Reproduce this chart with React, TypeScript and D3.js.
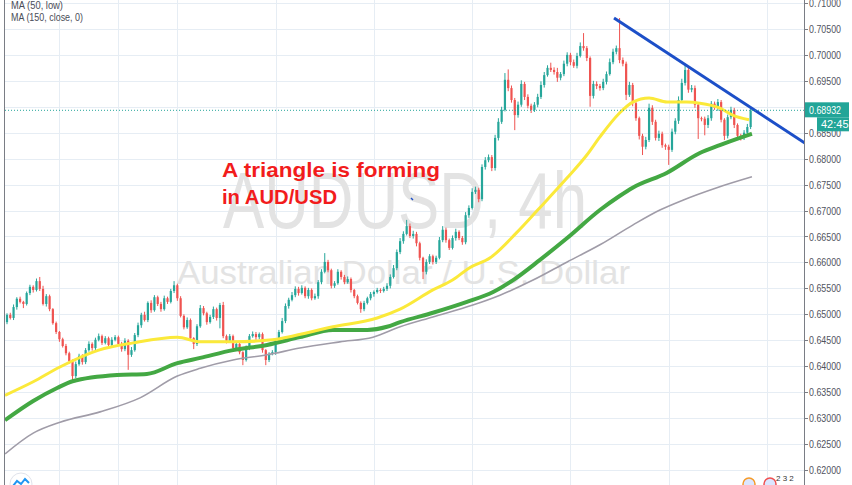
import React from "react";
import * as d3 from "d3";

// ---- data (prices in pips: 6485 = 0.6485) ----
const firstOpen = 6485;
const closes = [
  6499, 6493, 6514, 6530, 6524, 6520, 6541, 6553, 6547, 6564,
  6549, 6520, 6535, 6510, 6483, 6466, 6452, 6439, 6425, 6410,
  6381, 6404, 6420, 6408, 6431, 6443, 6435, 6451, 6458, 6445,
  6454, 6441, 6451, 6456, 6443, 6433, 6449, 6422, 6431, 6460,
  6479, 6499, 6489, 6522, 6508, 6533, 6520, 6510, 6531, 6524,
  6545, 6556, 6531, 6497, 6475, 6489, 6454, 6443, 6477, 6512,
  6502, 6485, 6495, 6510, 6493, 6518, 6458, 6449, 6458, 6435,
  6443, 6427, 6412, 6435, 6458, 6462, 6456, 6462, 6431, 6412,
  6424, 6427, 6447, 6466, 6487, 6516, 6528, 6537, 6549, 6541,
  6551, 6535, 6547, 6531, 6535, 6562, 6582, 6601, 6585, 6555,
  6560, 6582, 6572, 6562, 6568, 6547, 6535, 6522, 6510, 6522,
  6531, 6539, 6543, 6547, 6545, 6549, 6555, 6572, 6589, 6620,
  6641, 6655, 6670, 6651, 6655, 6637, 6609, 6582, 6601, 6612,
  6601, 6609, 6643, 6663, 6643, 6628, 6647, 6659, 6647, 6639,
  6691, 6705, 6736, 6740, 6722, 6784, 6797, 6803, 6782, 6840,
  6871, 6894, 6952, 6936, 6913, 6884, 6904, 6944, 6919, 6902,
  6894, 6904, 6919, 6942, 6961, 6975, 6971, 6967, 6956, 6963,
  6983, 7000, 6986, 6979, 6998, 7017, 7013, 6994, 6921, 6944,
  6940, 6936, 6948, 6963, 6986, 7006, 7013, 6990, 6983, 6923,
  6942, 6907, 6878, 6844, 6823, 6836, 6898, 6871, 6840, 6848,
  6826, 6823, 6817, 6852, 6873, 6913, 6946, 6971, 6933, 6936,
  6904, 6878, 6877, 6865, 6878, 6906, 6898, 6909, 6875, 6844,
  6880, 6894, 6865, 6844, 6840, 6850, 6861, 6893,
];
const upWick = [
  3, 4, 5, 3, 4, 2, 3, 4, 3, 5,
  8, 6, 4, 3, 2, 3, 2, 3, 4, 3,
  3, 5, 4, 3, 4, 5, 3, 4, 5, 3,
  4, 3, 5, 4, 3, 4, 5, 3, 6, 4,
  5, 4, 6, 3, 5, 4, 3, 4, 5, 3,
  4, 8, 3, 4, 3, 5, 3, 2, 4, 6,
  4, 3, 4, 5, 3, 4, 6, 3, 4, 3,
  4, 3, 2, 5, 4, 5, 4, 3, 3, 2,
  3, 4, 5, 4, 6, 5, 4, 6, 5, 4,
  5, 3, 4, 3, 5, 4, 5, 17, 4, 3,
  4, 5, 3, 4, 5, 3, 2, 3, 3, 4,
  3, 4, 3, 4, 3, 4, 5, 5, 6, 5,
  6, 5, 12, 5, 6, 4, 3, 2, 5, 4,
  3, 4, 6, 7, 4, 3, 5, 6, 3, 4,
  6, 5, 7, 6, 4, 5, 6, 5, 4, 6,
  7, 6, 13, 20, 5, 4, 6, 7, 4, 5,
  4, 5, 6, 7, 6, 5, 10, 5, 8, 4,
  6, 5, 4, 5, 6, 7, 25, 4, 3, 6,
  5, 4, 6, 5, 7, 6, 5, 58, 5, 4,
  6, 4, 5, 3, 4, 6, 8, 5, 4, 6,
  4, 3, 4, 6, 5, 7, 8, 10, 4, 6,
  5, 4, 3, 4, 6, 5, 4, 6, 4, 3,
  5, 6, 4, 3, 4, 5, 6, 5,
];
const dnWick = [
  4, 3, 4, 5, 3, 8, 3, 4, 5, 3,
  4, 3, 5, 4, 3, 4, 5, 3, 4, 5,
  10, 4, 3, 5, 4, 3, 5, 4, 3, 4,
  3, 4, 5, 3, 4, 5, 4, 29, 4, 3,
  4, 5, 3, 4, 5, 3, 4, 5, 3, 4,
  3, 4, 5, 3, 4, 3, 5, 10, 4, 3,
  4, 5, 3, 4, 5, 20, 4, 5, 3, 4,
  5, 4, 10, 3, 4, 3, 5, 4, 5, 10,
  4, 3, 5, 4, 3, 4, 5, 3, 4, 5,
  3, 4, 5, 4, 3, 5, 4, 3, 4, 5,
  4, 3, 5, 4, 3, 5, 4, 3, 7, 4,
  3, 4, 5, 3, 4, 3, 4, 5, 3, 4,
  4, 5, 3, 4, 5, 6, 5, 14, 5, 4,
  5, 4, 3, 4, 5, 4, 3, 5, 4, 5,
  4, 5, 3, 4, 6, 4, 5, 4, 6, 5,
  5, 4, 3, 6, 5, 29, 5, 4, 6, 5,
  6, 4, 5, 4, 5, 3, 4, 5, 8, 5,
  4, 5, 6, 4, 5, 3, 5, 6, 21, 5,
  6, 5, 4, 5, 3, 4, 5, 6, 5, 10,
  4, 6, 5, 7, 16, 5, 4, 6, 5, 6,
  5, 6, 29, 4, 5, 6, 4, 5, 6, 5,
  6, 40, 5, 20, 6, 5, 4, 6, 5, 8,
  5, 4, 6, 8, 5, 4, 5, 4,
];

// moving averages (bar index, value in pips)
const maYellowIdx = [-0.6, 8, 16, 28, 38.5, 52, 59, 69, 81, 85.5, 99.5, 113, 120, 130, 136, 141, 147.5, 155.5, 162, 171, 177, 181, 187, 191, 196, 201.5, 207.5, 211.5, 217.5, 221.5, 226.5];
const maYellowVal = [6344, 6370, 6398, 6431, 6445, 6456, 6447, 6447, 6451, 6456, 6476, 6493, 6510, 6547, 6566, 6589, 6609, 6657, 6701, 6763, 6807, 6842, 6888, 6909, 6917, 6909, 6909, 6907, 6898, 6884, 6875];
const maGreenIdx = [-0.6, 8, 15.3, 20, 33.6, 42.7, 52, 59, 69, 79.4, 89.4, 99.5, 110, 116, 120, 130, 140.4, 148.4, 154.5, 162.7, 171, 181, 187, 191, 201.5, 211.5, 217.6, 223.7, 227.4];
const maGreenVal = [6296, 6333, 6358, 6371, 6383, 6385, 6406, 6416, 6431, 6441, 6456, 6470, 6470, 6476, 6485, 6503, 6524, 6543, 6566, 6605, 6647, 6701, 6728, 6744, 6773, 6811, 6826, 6840, 6848];
const maGreyIdx = [-0.6, 8, 16.2, 28.4, 40.6, 52, 59, 69, 79.4, 89.4, 101.6, 111.7, 120, 130, 142.2, 150.5, 160.6, 171, 181, 191, 199.3, 206.3, 216.7, 227.4];
const maGreyVal = [6231, 6271, 6292, 6312, 6339, 6381, 6396, 6412, 6422, 6435, 6447, 6456, 6476, 6495, 6518, 6537, 6566, 6601, 6634, 6672, 6701, 6720, 6744, 6765];

const priceTicks = [0.62, 0.625, 0.63, 0.635, 0.64, 0.645, 0.65, 0.655, 0.66, 0.665, 0.67, 0.675, 0.68, 0.685, 0.69, 0.695, 0.7, 0.705, 0.71];
const weekGridIdx = [16, 34, 52, 82, 112, 142, 172, 202, 232];
const trendIdx = [185.3, 243.6];
const trendVal = [0.7071, 0.683];
const lastPrice = 0.68932;
const countdown = "42:45";
const legendLines = ["MA (50, low)", "MA (150, close, 0)"];
const watermark = "AUDUSD, 4h";
const watermark2 = "Australian Dollar / U.S. Dollar";
const note = ["A triangle is forming", "in AUD/USD"];

const UP = "#26a69a";
const DOWN = "#ef5350";

export default function App() {
  const W = 852;
  const H = 485;
  const plotL = 5;
  const plotR = 804;
  const x = d3.scaleLinear().domain([0, 232]).range([7, 767]);
  const y = d3.scaleLinear().domain([0.62, 0.71]).range([470, 3]);
  const p = (v: number) => v / 10000;

  const candles = closes.map((c, i) => {
    const o = i === 0 ? firstOpen : closes[i - 1];
    const hi = Math.max(o, c) + upWick[i];
    const lo = Math.min(o, c) - dnWick[i];
    return { i, o: p(o), c: p(c), h: p(hi), l: p(lo) };
  });

  const line = d3
    .line<[number, number]>()
    .x((d) => x(d[0]))
    .y((d) => y(p(d[1])))
    .curve(d3.curveMonotoneX);

  const zip = (a: number[], b: number[]) => a.map((v, k) => [v, b[k]] as [number, number]);

  const bw = 2.2;
  const lpY = y(lastPrice);

  return (
    <div style={{ position: "absolute", left: 0, top: 0 }}>
      <svg width={W} height={H} style={{ display: "block", background: "#fff" }}>
        <defs>
          <clipPath id="plotclip">
            <rect x={plotL} y={0} width={plotR - plotL} height={H} />
          </clipPath>
        </defs>
        <rect x={0} y={0} width={W} height={H} fill="#ffffff" />
        {/* grid */}
        <g stroke="#e6edf4" strokeWidth={1}>
          {priceTicks.map((t) => (
            <line key={t} x1={plotL} x2={plotR} y1={Math.round(y(t)) + 0.5} y2={Math.round(y(t)) + 0.5} />
          ))}
          {weekGridIdx.map((g) => (
            <line key={g} x1={Math.round(x(g)) + 0.5} x2={Math.round(x(g)) + 0.5} y1={0} y2={H} />
          ))}
        </g>
        {/* watermark */}
        <text
          x={223}
          y={228}
          fontFamily="'Liberation Sans', Arial, sans-serif"
          fontSize={80}
          fill="#e3e3e3"
          textLength={364}
          lengthAdjust="spacingAndGlyphs"
        >
          {watermark}
        </text>
        <text
          x={177}
          y={284}
          fontFamily="'Liberation Sans', Arial, sans-serif"
          fontSize={33}
          fill="#e3e3e3"
          textLength={453}
          lengthAdjust="spacingAndGlyphs"
        >
          {watermark2}
        </text>
        <g clipPath="url(#plotclip)">
          {/* candles */}
          {candles.map((d) => {
            const col = d.c >= d.o ? UP : DOWN;
            const cx = x(d.i);
            const top = y(Math.max(d.o, d.c));
            const bot = y(Math.min(d.o, d.c));
            return (
              <g key={d.i}>
                <line x1={cx} x2={cx} y1={y(d.h)} y2={y(d.l)} stroke={col} strokeWidth={1} />
                <rect x={cx - bw / 2} y={top} width={bw} height={Math.max(1, bot - top)} fill={col} />
              </g>
            );
          })}
          {/* moving averages */}
          <path d={line(zip(maGreyIdx, maGreyVal)) || ""} fill="none" stroke="#a09ca8" strokeWidth={1.6} />
          <path d={line(zip(maGreenIdx, maGreenVal)) || ""} fill="none" stroke="#43a843" strokeWidth={4} />
          <path d={line(zip(maYellowIdx, maYellowVal)) || ""} fill="none" stroke="#fbe93a" strokeWidth={3} />
          {/* trend line */}
          <line
            x1={x(trendIdx[0])}
            y1={y(trendVal[0])}
            x2={x(trendIdx[1])}
            y2={y(trendVal[1])}
            stroke="#1c4fc8"
            strokeWidth={3}
          />
          {/* last price line */}
          <line x1={plotL} x2={plotR} y1={lpY} y2={lpY} stroke={UP} strokeWidth={1} strokeDasharray="1 2" />
          <line x1={411} x2={413} y1={198} y2={200} stroke="#1c4fc8" strokeWidth={1.5} />
        </g>
        {/* annotation */}
        <g fontFamily="'Liberation Sans', Arial, sans-serif" fontWeight="bold" fontSize={21} fill="#f21c1c">
          <text x={222} y={177} textLength={218} lengthAdjust="spacingAndGlyphs">
            {note[0]}
          </text>
          <text x={222} y={204} textLength={115} lengthAdjust="spacingAndGlyphs">
            {note[1]}
          </text>
        </g>
        {/* borders */}
        <line x1={4.5} x2={4.5} y1={0} y2={H} stroke="#7a7d85" strokeWidth={1} />
        <line x1={plotR + 0.5} x2={plotR + 0.5} y1={0} y2={H} stroke="#7a7d85" strokeWidth={1} />
        {/* axis labels */}
        <g fontFamily="'Liberation Sans', Arial, sans-serif" fontSize={11} fill="#50535e">
          {priceTicks.map((t) => (
            <g key={t}>
              <line x1={plotR} x2={plotR + 4} y1={Math.round(y(t)) + 0.5} y2={Math.round(y(t)) + 0.5} stroke="#7a7d85" />
              <text x={809} y={y(t) + 4} textLength={32} lengthAdjust="spacingAndGlyphs">
                {t.toFixed(5)}
              </text>
            </g>
          ))}
        </g>
        {/* last price boxes */}
        <rect x={plotR + 1} y={lpY - 8} width={44} height={15} fill="#22a598" />
        <text
          x={809}
          y={lpY + 4}
          fontFamily="'Liberation Sans', Arial, sans-serif"
          fontSize={11}
          fill="#ffffff"
          textLength={32}
          lengthAdjust="spacingAndGlyphs"
        >
          {lastPrice.toFixed(5)}
        </text>
        <rect x={817} y={lpY + 7} width={32} height={14} fill="#22a598" />
        <text x={821} y={lpY + 18} fontFamily="'Liberation Sans', Arial, sans-serif" fontSize={11} fill="#ffffff">
          {countdown}
        </text>
        {/* legend */}
        <g fontFamily="'Liberation Sans', Arial, sans-serif" fontSize={11} fill="#4a4d57">
          <text x={11} y={9} textLength={52} lengthAdjust="spacingAndGlyphs">
            {legendLines[0]}
          </text>
          <text x={11} y={21} textLength={72} lengthAdjust="spacingAndGlyphs">
            {legendLines[1]}
          </text>
        </g>
        {/* bottom icons */}
        <circle cx={21} cy={484} r={11} fill="#ffffff" stroke="#e0e3eb" />
        <path d="M13,486 L17,481 L21,484 L25,479 L29,483" fill="none" stroke="#2196f3" strokeWidth={2} />
        <circle cx={749} cy={484} r={6} fill="#dbe6ff" stroke="#f59b2a" strokeWidth={1.5} />
        <circle cx={770} cy={484} r={6} fill="#dbe6ff" stroke="#f05050" strokeWidth={1.5} />
        <text x={776} y={481} fontFamily="'Liberation Sans', Arial, sans-serif" fontSize={8} fill="#333">
          2 3 2
        </text>
      </svg>
    </div>
  );
}
